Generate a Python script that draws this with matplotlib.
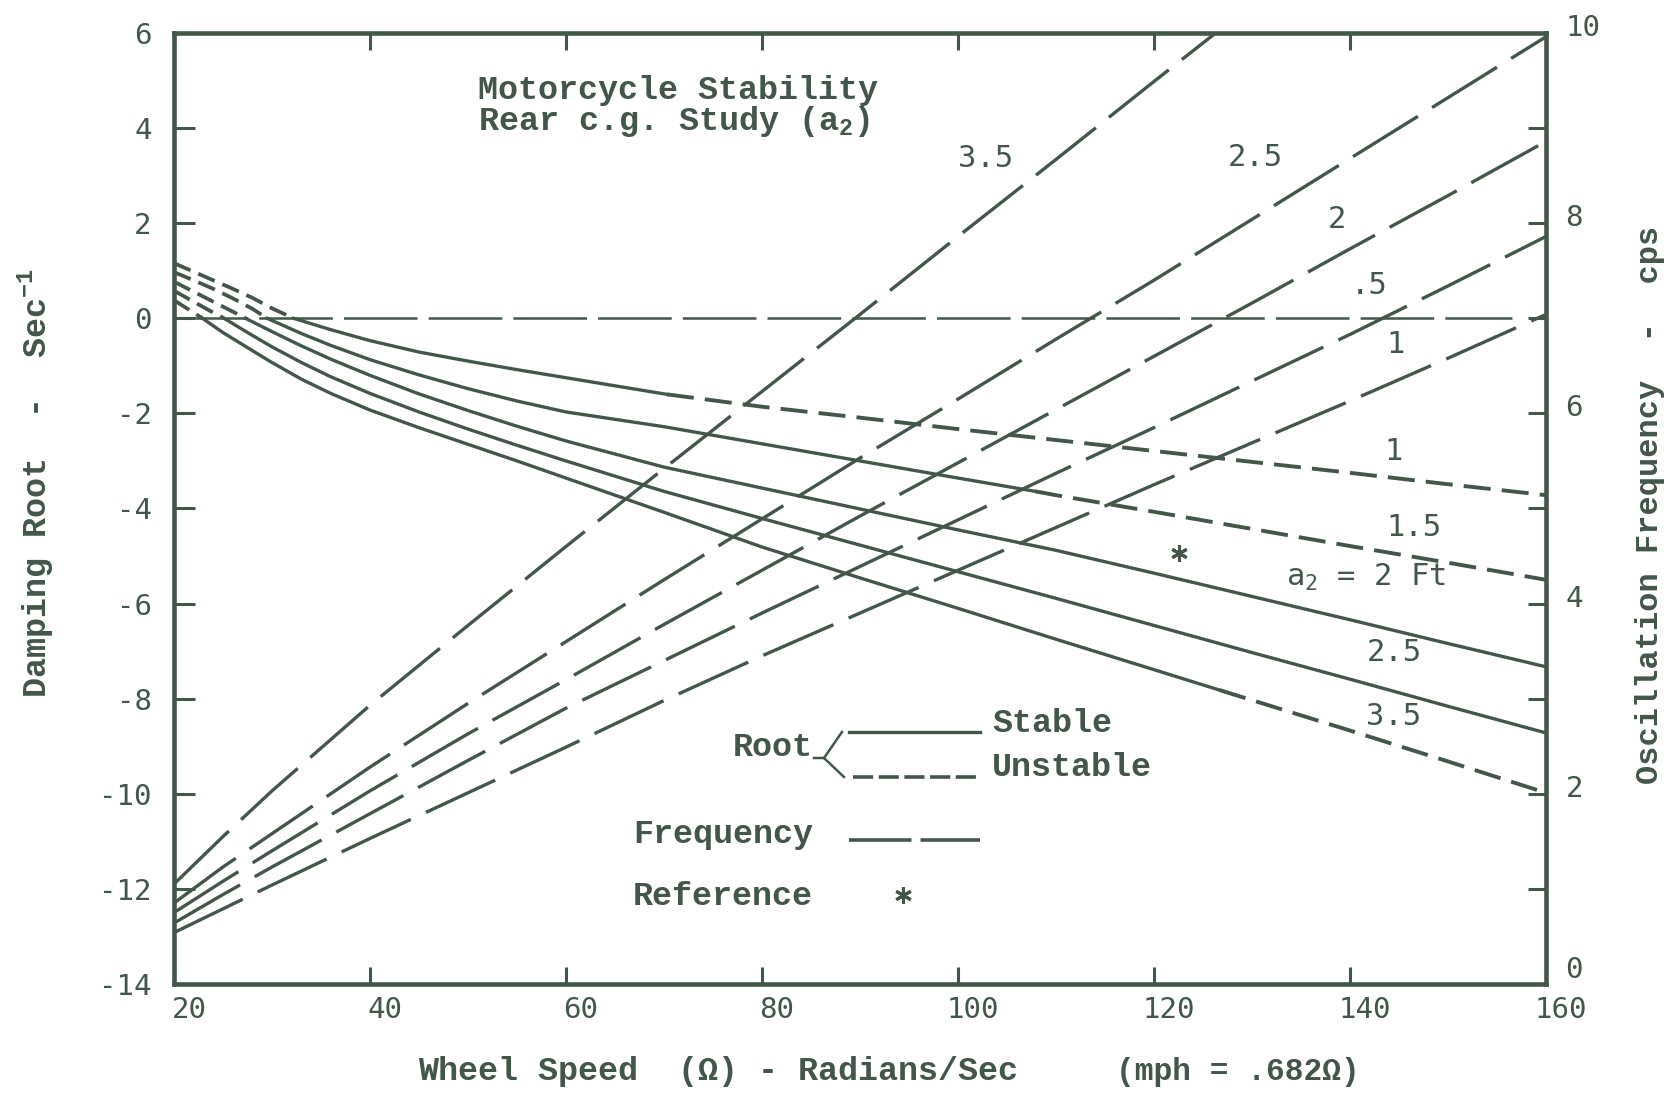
import numpy as np
import matplotlib
matplotlib.use('Agg')
import matplotlib.pyplot as plt
from matplotlib.transforms import ScaledTranslation

# damping root curves (Sec^-1) for each rear c.g. position a2 (ft)
root_x_1 = [20, 22, 24, 26, 28, 30, 32.2, 36, 40, 45, 50, 55, 60, 70.3, 80, 90, 100, 110, 120, 130, 140, 150, 160]
root_y_1 = [1.16, 0.98, 0.80, 0.62, 0.43, 0.21, 0.0, -0.24, -0.47, -0.71, -0.90, -1.08, -1.25, -1.60, -1.86,
            -2.09, -2.33, -2.56, -2.79, -3.02, -3.25, -3.49, -3.72]
root_x_15 = [20, 22, 24, 26, 28, 29.5, 33, 36, 40, 45, 50, 55, 60, 70, 80, 90, 100, 107.9, 110, 120, 130, 140, 150, 160]
root_y_15 = [0.97, 0.80, 0.62, 0.42, 0.20, 0.0, -0.32, -0.57, -0.87, -1.19, -1.48, -1.74, -1.97, -2.28, -2.64,
             -3.00, -3.36, -3.64, -3.72, -4.07, -4.43, -4.79, -5.14, -5.50]
root_x_2 = [20, 22, 24, 26, 27.3, 30, 33, 36, 40, 45, 50, 55, 60, 70, 80, 90, 100, 110, 120, 130, 140, 150, 160]
root_y_2 = [0.77, 0.56, 0.35, 0.14, 0.0, -0.28, -0.58, -0.86, -1.20, -1.59, -1.94, -2.27, -2.58, -3.13, -3.57,
            -4.01, -4.45, -4.88, -5.36, -5.85, -6.34, -6.84, -7.33]
root_x_25 = [20, 22, 24, 25.1, 28, 30, 33, 36, 40, 45, 50, 55, 60, 70, 80, 90, 100, 110, 120, 130, 140, 150, 160]
root_y_25 = [0.58, 0.35, 0.12, 0.0, -0.36, -0.60, -0.93, -1.23, -1.58, -1.97, -2.33, -2.67, -3.00, -3.64, -4.21,
             -4.77, -5.33, -5.89, -6.46, -7.03, -7.59, -8.16, -8.72]
root_x_35 = [20, 22, 22.9, 25, 28, 30, 33, 36, 40, 45, 50, 55, 60, 70, 80, 90, 100, 110, 120, 126.7, 140, 150, 160]
root_y_35 = [0.38, 0.12, 0.0, -0.30, -0.68, -0.93, -1.28, -1.58, -1.93, -2.30, -2.65, -3.00, -3.36, -4.08, -4.81,
             -5.46, -6.10, -6.75, -7.39, -7.82, -8.67, -9.32, -9.98]

# where each root crosses zero, and where it turns unstable again
zero_cross = {1: 32.2, 1.5: 29.5, 2: 27.3, 2.5: 25.1, 3.5: 22.9}
unstable_from = {1: 70.3, 1.5: 107.9, 3.5: 126.7}
zero_line_end = 156.5

# oscillation frequency (cps)
freq_x = [20, 25, 30, 40, 50, 60, 70, 80, 90, 100, 110, 120, 130, 140, 150, 160]
freq_25 = [0.85, 1.23, 1.58, 2.28, 2.95, 3.60, 4.25, 4.89, 5.53, 6.15, 6.78, 7.40, 8.04, 8.68, 9.32, 9.96]
freq_2 = [0.75, 1.08, 1.40, 2.03, 2.63, 3.20, 3.78, 4.35, 4.92, 5.48, 6.04, 6.60, 7.16, 7.73, 8.29, 8.86]
freq_15 = [0.64, 0.94, 1.23, 1.79, 2.35, 2.90, 3.40, 3.90, 4.39, 4.88, 5.37, 5.85, 6.34, 6.83, 7.34, 7.86]
freq_1 = [0.54, 0.79, 1.04, 1.53, 2.01, 2.49, 2.98, 3.45, 3.90, 4.35, 4.80, 5.25, 5.69, 6.13, 6.58, 7.04]
freq_x_35 = [20, 25, 30, 40, 50, 60, 70, 80, 90, 100, 110, 120, 126.3]
freq_35 = [1.05, 1.55, 2.03, 2.93, 3.77, 4.60, 5.42, 6.23, 7.04, 7.86, 8.67, 9.49, 10.0]

ref_x = [122.6]
ref_y = [-4.94]

x_ticks = [20, 40, 60, 80, 100, 120, 140, 160]
root_ticks = [-14, -12, -10, -8, -6, -4, -2, 0, 2, 4, 6]
freq_ticks = [0, 2, 4, 6, 8, 10]

ink = '#42574a'
mono = 'Liberation Mono'
digits = 'DejaVu Sans Mono'

plt.rcParams['lines.scale_dashes'] = False
plt.rcParams['font.family'] = digits

fig = plt.figure(figsize=(16.76, 11.0), dpi=100)
ax = fig.add_axes([0.1038, 0.1055, 0.8186, 0.8645])
ax2 = ax.twinx()

ax.set_xlim(20, 160)
ax.set_ylim(-14, 6)
ax2.set_ylim(0, 10)

# zero damping line
ax.hlines(0, x_ticks[0], zero_line_end, color=ink, lw=1.8, linestyles=[(0, (53, 8))])


def draw_root(x, y, a2):
    x = np.asarray(x)
    y = np.asarray(y)
    xz = zero_cross[a2]
    xu = unstable_from.get(a2)
    m = x <= xz
    ax.plot(x[m], y[m], color=ink, lw=2.7, dashes=(13, 6))
    end = xu if xu is not None else x[-1]
    m = (x >= xz) & (x <= end)
    ax.plot(x[m], y[m], color=ink, lw=2.4)
    if xu is not None:
        m = x >= xu
        ax.plot(x[m], y[m], color=ink, lw=2.8, dashes=(19.5, 8))


draw_root(root_x_1, root_y_1, 1)
draw_root(root_x_15, root_y_15, 1.5)
draw_root(root_x_2, root_y_2, 2)
draw_root(root_x_25, root_y_25, 2.5)
draw_root(root_x_35, root_y_35, 3.5)

for fy in [freq_25, freq_2, freq_15, freq_1]:
    ax2.plot(freq_x, fy, color=ink, lw=2.4, dashes=(55, 12))
ax2.plot(freq_x_35, freq_35, color=ink, lw=2.4, dashes=(55, 12))

ax.plot(ref_x, ref_y, ls='none', marker=(6, 2, 0), ms=12, mew=2.2, color=ink)

# frame and ticks
for side in ['left', 'right', 'top', 'bottom']:
    ax.spines[side].set_linewidth(3.3)
    ax.spines[side].set_color(ink)
    ax2.spines[side].set_visible(False)

ax.set_xticks(x_ticks)
ax.set_xticklabels([str(v) for v in x_ticks])
ax.set_yticks(root_ticks)
ax.set_yticklabels([str(v) for v in root_ticks])
ax2.set_yticks(freq_ticks)
ax2.set_yticks(range(11), minor=True)
ax2.set_yticklabels([str(v) for v in freq_ticks])

ax.tick_params(axis='x', direction='in', top=True, bottom=True, length=12, width=2.2,
               color=ink, labelcolor=ink, labelsize=21, pad=9)
ax.tick_params(axis='y', direction='in', left=True, right=False, length=15, width=2.2,
               color=ink, labelcolor=ink, labelsize=21, pad=16)
ax2.tick_params(axis='y', which='both', direction='in', length=13, width=2.2,
                color=ink, labelcolor=ink, labelsize=21, pad=14)

# the speed numbers sit a little right of their ticks
shift = ScaledTranslation(0.15, 0, fig.dpi_scale_trans)
for lbl in ax.get_xticklabels():
    lbl.set_transform(lbl.get_transform() + shift)
# cps numbers sit a little above their ticks, the 0 more so
for i, lbl in enumerate(ax2.get_yticklabels()):
    up = 0.17 if i == 0 else 0.08
    lbl.set_transform(lbl.get_transform() + ScaledTranslation(0, up, fig.dpi_scale_trans))

# title
ax.text(51.0, 4.80, 'Motorcycle Stability', family=mono, weight='bold', fontsize=24,
        color=ink, ha='left', va='center')
ax.text(51.0, 4.13, r'Rear c.g. Study (a$_{\mathregular{2}}$)', family=mono, weight='bold',
        fontsize=24, color=ink, ha='left', va='center')

# curve labels: frequency
for lx, ly, s in [(102.8, 3.37, '3.5'), (130.3, 3.39, '2.5'), (138.7, 2.07, '2'),
                  (142.0, 0.70, '.5'), (144.7, -0.56, '1')]:
    ax.text(lx, ly, s, fontsize=22, color=ink, ha='center', va='center')
# curve labels: roots
for lx, ly, s in [(144.5, -2.81, '1'), (146.5, -4.41, '1.5'), (144.5, -7.02, '2.5'),
                  (144.5, -8.38, '3.5')]:
    ax.text(lx, ly, s, fontsize=22, color=ink, ha='center', va='center')
ax.text(141.6, -5.46, r'a$_{\mathregular{2}}$ = 2 Ft', fontsize=22, color=ink,
        ha='center', va='center')

# key
tr = ax.transAxes
ax.plot([0.492, 0.5875], [0.265, 0.265], transform=tr, color=ink, lw=2.4)
ax.plot([0.4949, 0.5875], [0.2177, 0.2177], transform=tr, color=ink, lw=2.6, dashes=(14.5, 4))
ax.plot([0.492, 0.5875], [0.1514, 0.1514], transform=tr, color=ink, lw=2.6, dashes=(45, 6.5))
ax.plot([0.5313], [0.0936], transform=tr, ls='none', marker=(6, 2, 0), ms=12, mew=2.2, color=ink)
ax.plot([0.4665, 0.4738, 0.4869], [0.2376, 0.2376, 0.265], transform=tr, color=ink, lw=1.8)
ax.plot([0.4738, 0.4883], [0.2376, 0.2177], transform=tr, color=ink, lw=1.8)
key_font = dict(family=mono, weight='bold', fontsize=24, color=ink, va='center', ha='left',
                transform=tr)
ax.text(0.4074, 0.2482, 'Root', **key_font)
ax.text(0.5962, 0.2744, 'Stable', **key_font)
ax.text(0.5962, 0.2271, 'Unstable', **key_font)
ax.text(0.3345, 0.1567, 'Frequency', **key_font)
ax.text(0.3345, 0.0915, 'Reference', **key_font)

# axis titles
lab = dict(family=mono, weight='bold', color=ink)
fig.text(0.0215, 0.561, r'Damping Root  -  Sec$^{\mathregular{-1}}$', rotation=90,
         ha='center', va='center', fontsize=24, **lab)
fig.text(0.9845, 0.541, 'Oscillation Frequency  -  cps', rotation=90,
         ha='center', va='center', fontsize=23, **lab)
fig.text(0.2494, 0.0255, 'Wheel Speed  (Ω) - Radians/Sec', ha='left', va='center',
         fontsize=24, **lab)
fig.text(0.6659, 0.0255, '(mph = .682Ω)', ha='left', va='center', fontsize=22.5, **lab)

fig.savefig('out.png', dpi=100, facecolor='white')
